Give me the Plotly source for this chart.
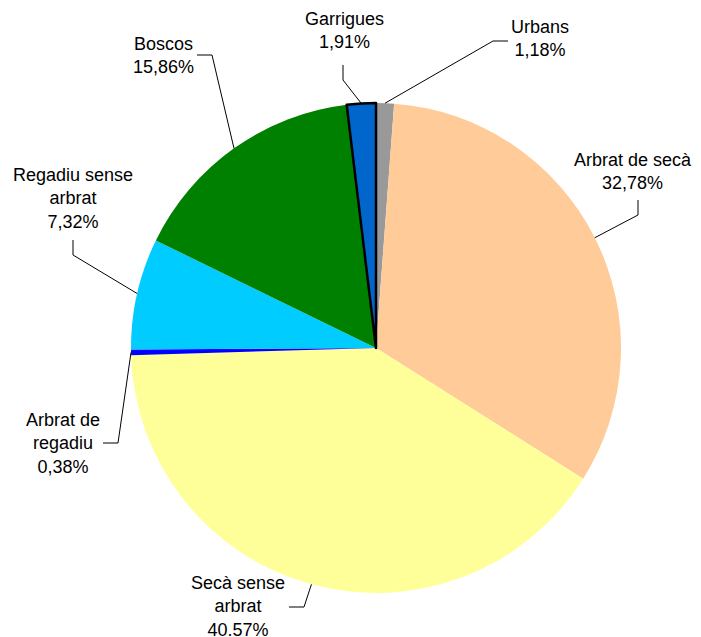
import math
import plotly.graph_objects as go

# ---- data ----
categories = ["Urbans", "Arbrat de secà", "Secà sense arbrat", "Arbrat de regadiu",
              "Regadiu sense arbrat", "Boscos", "Garrigues"]
values = [1.18, 32.78, 40.57, 0.38, 7.32, 15.86, 1.91]
label_texts = ["Urbans<br>1,18%", "Arbrat de secà<br>32,78%", "Secà sense<br>arbrat<br>40.57%",
               "Arbrat de<br>regadiu<br>0,38%", "Regadiu sense<br>arbrat<br>7,32%",
               "Boscos<br>15,86%", "Garrigues<br>1,91%"]

# ---- styles ----
colors = ["#999999", "#FFCC99", "#FFFF99", "#0000FF", "#00CCFF", "#008000", "#0066CC"]
line_widths = [0, 0, 0, 0, 0, 0, 2.5]
PAGE_W, PAGE_H = 701, 637
OFF = 8  # default page body margin
W, H = PAGE_W - OFF, PAGE_H - OFF
CX, CY, R = 376, 348, 245  # in page pixels
# leader-line elbow, end and label centre (page pixels)
elbows = [(493, 41), (638, 215), (304, 607), (118, 443), (73, 255), (212, 55), (343, 80)]
ends = [(508, 41), (638, 200), (289, 607), (103, 443), (73, 240), (197, 55), (343, 65)]
label_pos = [(540, 39), (633, 171), (238, 606), (63, 443), (73, 199), (163, 56), (344, 31)]

def px(x, y):
    return (x - OFF) / W, 1 - (y - OFF) / H

dx0, dy1 = px(CX - R, CY - R)
dx1, dy0 = px(CX + R, CY + R)

fig = go.Figure(go.Pie(
    labels=categories, values=values, sort=False, direction="clockwise", rotation=0,
    marker=dict(colors=colors, line=dict(color="black", width=line_widths)),
    textinfo="none", hoverinfo="label+percent", showlegend=False,
    domain=dict(x=[dx0, dx1], y=[dy0, dy1]),
))

total = sum(values)
cum = 0
shapes, annotations = [], []
for i, v in enumerate(values):
    mid = (cum + v / 2) / total * 2 * math.pi
    cum += v
    ex = CX + R * math.sin(mid)
    ey = CY - R * math.cos(mid)
    pts = [px(ex, ey), px(*elbows[i]), px(*ends[i])]
    path = "M {} {} L {} {} L {} {}".format(pts[0][0], pts[0][1], pts[1][0], pts[1][1],
                                            pts[2][0], pts[2][1])
    shapes.append(dict(type="path", xref="paper", yref="paper", path=path,
                       line=dict(color="black", width=1)))
    lx, ly = px(*label_pos[i])
    annotations.append(dict(x=lx, y=ly, xref="paper", yref="paper", text=label_texts[i],
                            showarrow=False, xanchor="center", yanchor="middle",
                            font=dict(family="Liberation Sans, Arial", size=18, color="black")))

fig.update_layout(width=W, height=H, margin=dict(l=0, r=0, t=0, b=0),
                  paper_bgcolor="white", plot_bgcolor="white",
                  shapes=shapes, annotations=annotations)
fig.write_html("out.html")
